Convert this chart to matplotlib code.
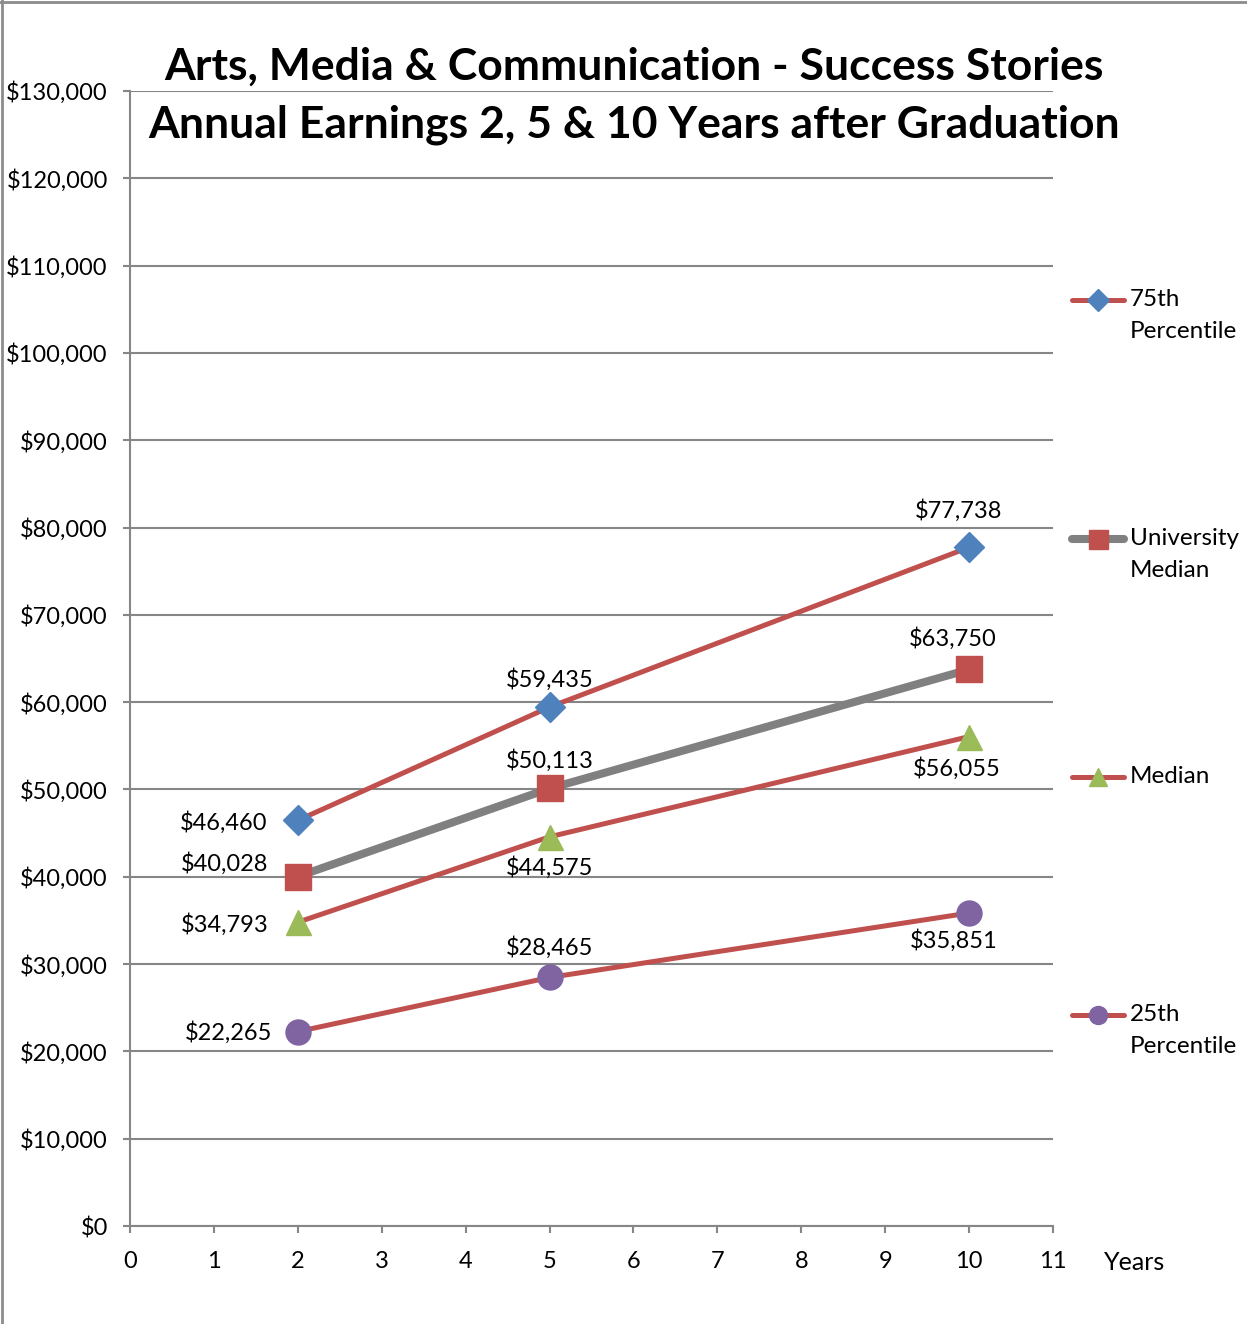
import matplotlib
matplotlib.use('Agg')
import matplotlib.pyplot as plt
from matplotlib.lines import Line2D
from matplotlib.ticker import FuncFormatter

plt.rcParams['font.family'] = ['Lato', 'DejaVu Sans']

years = [2, 5, 10]
series_names = ['75th\nPercentile', 'University\nMedian', 'Median', '25th\nPercentile']
pct75 = [46460, 59435, 77738]
uni_median = [40028, 50113, 63750]
median = [34793, 44575, 56055]
pct25 = [22265, 28465, 35851]

RED = '#C0504D'
GRAY = '#808080'
BLUE = '#4F81BD'
GREEN = '#9BBB59'
PURPLE = '#8064A2'

W, H = 1247, 1324
fig = plt.figure(figsize=(W / 100, H / 100), dpi=100)
ax = fig.add_axes([130 / W, 1 - 1226 / H, (1053 - 130) / W, (1226 - 91) / H])

# (values, line colour, line width, marker, marker colour, marker size, label offsets in px)
styles = [
    (pct75, RED, 3.6, 'D', BLUE, 15, [(-30, 0, 'right'), (0, 30, 'center'), (-11, 39, 'center')]),
    (uni_median, GRAY, 5.8, 's', RED, 19, [(-30, 15, 'right'), (0, 30, 'center'), (-16, 33, 'center')]),
    (median, RED, 3.6, '^', GREEN, 18, [(-29, 0, 'right'), (0, -29, 'center'), (-12, -30, 'center')]),
    (pct25, RED, 3.6, 'o', PURPLE, 18, [(-26, 1, 'right'), (0, 32, 'center'), (-15, -26, 'center')]),
]

for vals, lc, lw, mk, mc, ms, offs in styles:
    ax.plot(years, vals, color=lc, lw=lw, marker=mk, markersize=ms,
            markerfacecolor=mc, markeredgecolor=mc, zorder=3, solid_capstyle='round')
    for x, v, (dx, dy, ha) in zip(years, vals, offs):
        ax.annotate('${:,}'.format(v), (x, v), xytext=(dx * 0.72, dy * 0.72),
                    textcoords='offset points', ha=ha, va='center_baseline', fontsize=17, zorder=4)

ax.set_xlim(0, 11)
ax.set_ylim(0, 130000)
ax.set_xticks(range(0, 12))
ax.set_yticks(range(0, 130001, 10000))
ax.yaxis.set_major_formatter(FuncFormatter(lambda v, p: '${:,.0f}'.format(v)))
ax.grid(axis='y', color='#868686', lw=1.5)
ax.set_axisbelow(True)
for s in ['top', 'right']:
    ax.spines[s].set_visible(False)
for s in ['left', 'bottom']:
    ax.spines[s].set_color('#868686')
    ax.spines[s].set_linewidth(1.5)
ax.tick_params(axis='both', colors='#868686', labelcolor='black', labelsize=17, length=5, width=1.5)
ax.tick_params(axis='y', pad=11)
ax.tick_params(axis='x', pad=13)

# legend, drawn by hand so the handle sits on the first text line
leg_y = [300, 539, 777, 1015]
for (vals, lc, lw, mk, mc, ms, offs), name, yp in zip(styles, series_names, leg_y):
    fy = 1 - yp / H
    fig.add_artist(Line2D([1072 / W, 1124 / W], [fy, fy], color=lc, lw=lw, solid_capstyle='round'))
    fig.add_artist(Line2D([1098 / W], [fy], marker=mk, markersize=ms * 0.72, color=mc, lw=0))
    fig.text(1130 / W, 1 - (yp - 11) / H, name, fontsize=17.5, va='top', ha='left', linespacing=1.65)

fig.text(1104 / W, 1 - 1263 / H, 'Years', fontsize=18, va='center', ha='left')

fig.text(634 / W, 1 - 67 / H, 'Arts, Media & Communication - Success Stories',
         fontsize=32, fontweight='bold', ha='center', va='center')
fig.text(634 / W, 1 - 125 / H, 'Annual Earnings 2, 5 & 10 Years after Graduation',
         fontsize=32, fontweight='bold', ha='center', va='center')

# outer border (left and top edges visible)
fig.add_artist(Line2D([1.5 / W, 1.5 / W], [0, 1], color='#8C8C8C', lw=2))
fig.add_artist(Line2D([0, 1], [1 - 1.5 / H, 1 - 1.5 / H], color='#8C8C8C', lw=2))

fig.savefig('out.png', dpi=100)
